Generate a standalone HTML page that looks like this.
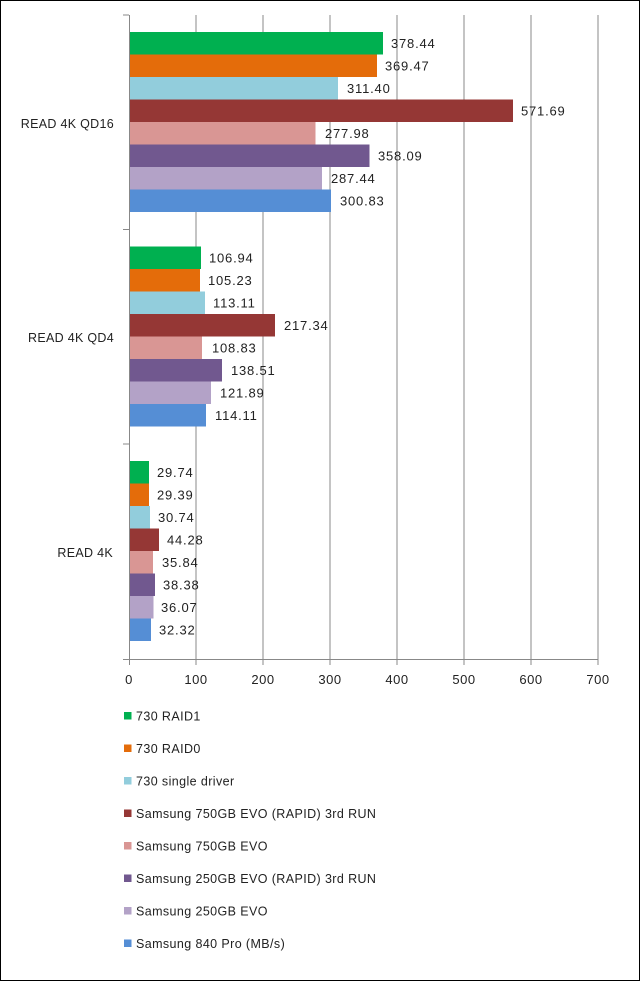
<!DOCTYPE html>
<html><head><meta charset="utf-8"><style>
html,body{margin:0;padding:0;background:#fff}
svg{display:block;font-family:"Liberation Sans","DejaVu Sans",sans-serif}
</style></head><body>
<svg width="640" height="981" viewBox="0 0 640 981" xmlns="http://www.w3.org/2000/svg">
<rect x="0.5" y="0.5" width="639" height="980" fill="#fff" stroke="#000" stroke-width="1"/>
<g stroke="#888" stroke-width="1">
<line x1="196" y1="15" x2="196" y2="659"/><line x1="263" y1="15" x2="263" y2="659"/>
<line x1="330" y1="15" x2="330" y2="659"/><line x1="397" y1="15" x2="397" y2="659"/>
<line x1="464" y1="15" x2="464" y2="659"/><line x1="531" y1="15" x2="531" y2="659"/>
<line x1="598" y1="15" x2="598" y2="659"/>
<line x1="129.5" y1="15" x2="129.5" y2="665"/>
<line x1="123" y1="659.5" x2="598" y2="659.5"/>
<line x1="123" y1="15" x2="129" y2="15"/><line x1="123" y1="229.5" x2="129" y2="229.5"/>
<line x1="123" y1="444" x2="129" y2="444"/>
<line x1="196" y1="659" x2="196" y2="665"/><line x1="263" y1="659" x2="263" y2="665"/>
<line x1="330" y1="659" x2="330" y2="665"/><line x1="397" y1="659" x2="397" y2="665"/>
<line x1="464" y1="659" x2="464" y2="665"/><line x1="531" y1="659" x2="531" y2="665"/>
<line x1="598" y1="659" x2="598" y2="665"/>
</g>
<g font-size="13" letter-spacing="0.8" fill="#222">
<rect x="130" y="32" width="253" height="22.5" fill="#00b050"/><text x="391" y="48">378.44</text>
<rect x="130" y="54.5" width="247" height="22.5" fill="#e46c0a"/><text x="385" y="70.5">369.47</text>
<rect x="130" y="77" width="208" height="22.5" fill="#92cddc"/><text x="347" y="93">311.40</text>
<rect x="130" y="99.5" width="383" height="22.5" fill="#953735"/><text x="521" y="115.5">571.69</text>
<rect x="130" y="122" width="185.5" height="22.5" fill="#d99694"/><text x="325" y="138">277.98</text>
<rect x="130" y="144.5" width="239.5" height="22.5" fill="#71588f"/><text x="378" y="160.5">358.09</text>
<rect x="130" y="167" width="192" height="22.5" fill="#b3a2c7"/><text x="331" y="183">287.44</text>
<rect x="130" y="189.5" width="201" height="22.5" fill="#558ed5"/><text x="340" y="205.5">300.83</text>
<rect x="130" y="246.5" width="71" height="22.5" fill="#00b050"/><text x="209" y="262.5">106.94</text>
<rect x="130" y="269" width="70" height="22.5" fill="#e46c0a"/><text x="208" y="285">105.23</text>
<rect x="130" y="291.5" width="75" height="22.5" fill="#92cddc"/><text x="213" y="307.5">113.11</text>
<rect x="130" y="314" width="145" height="22.5" fill="#953735"/><text x="284" y="330">217.34</text>
<rect x="130" y="336.5" width="72" height="22.5" fill="#d99694"/><text x="212" y="352.5">108.83</text>
<rect x="130" y="359" width="92" height="22.5" fill="#71588f"/><text x="231" y="375">138.51</text>
<rect x="130" y="381.5" width="81" height="22.5" fill="#b3a2c7"/><text x="220" y="397.5">121.89</text>
<rect x="130" y="404" width="76" height="22.5" fill="#558ed5"/><text x="215" y="420">114.11</text>
<rect x="130" y="461" width="19" height="22.5" fill="#00b050"/><text x="157" y="477">29.74</text>
<rect x="130" y="483.5" width="19" height="22.5" fill="#e46c0a"/><text x="157" y="499.5">29.39</text>
<rect x="130" y="506" width="20" height="22.5" fill="#92cddc"/><text x="158" y="522">30.74</text>
<rect x="130" y="528.5" width="29" height="22.5" fill="#953735"/><text x="167" y="544.5">44.28</text>
<rect x="130" y="551" width="23" height="22.5" fill="#d99694"/><text x="162" y="567">35.84</text>
<rect x="130" y="573.5" width="25" height="22.5" fill="#71588f"/><text x="163" y="589.5">38.38</text>
<rect x="130" y="596" width="23.5" height="22.5" fill="#b3a2c7"/><text x="161" y="612">36.07</text>
<rect x="130" y="618.5" width="21" height="22.5" fill="#558ed5"/><text x="159" y="634.5">32.32</text>
</g>
<g font-size="12.5" letter-spacing="0.3" fill="#222" text-anchor="end">
<text x="114" y="128">READ 4K QD16</text>
<text x="114" y="342">READ 4K QD4</text>
<text x="113" y="557">READ 4K</text>
</g>
<g font-size="13" letter-spacing="0.5" fill="#222" text-anchor="middle">
<text x="129" y="684">0</text><text x="196" y="684">100</text><text x="263" y="684">200</text>
<text x="330" y="684">300</text><text x="397" y="684">400</text><text x="464" y="684">500</text>
<text x="531" y="684">600</text><text x="598" y="684">700</text>
</g>
<g font-size="12.5" letter-spacing="0.4" fill="#222">
<rect x="124" y="712" width="7.5" height="7.5" fill="#00b050"/><text x="136" y="720.5">730 RAID1</text>
<rect x="124" y="744.5" width="7.5" height="7.5" fill="#e46c0a"/><text x="136" y="753">730 RAID0</text>
<rect x="124" y="777" width="7.5" height="7.5" fill="#92cddc"/><text x="136" y="785.5">730 single driver</text>
<rect x="124" y="809.5" width="7.5" height="7.5" fill="#953735"/><text x="136" y="818">Samsung 750GB EVO (RAPID) 3rd RUN</text>
<rect x="124" y="842" width="7.5" height="7.5" fill="#d99694"/><text x="136" y="850.5">Samsung 750GB EVO</text>
<rect x="124" y="874.5" width="7.5" height="7.5" fill="#71588f"/><text x="136" y="883">Samsung 250GB EVO (RAPID) 3rd RUN</text>
<rect x="124" y="907" width="7.5" height="7.5" fill="#b3a2c7"/><text x="136" y="915.5">Samsung 250GB EVO</text>
<rect x="124" y="939.5" width="7.5" height="7.5" fill="#558ed5"/><text x="136" y="948">Samsung 840 Pro (MB/s)</text>
</g>
</svg>
</body></html>
